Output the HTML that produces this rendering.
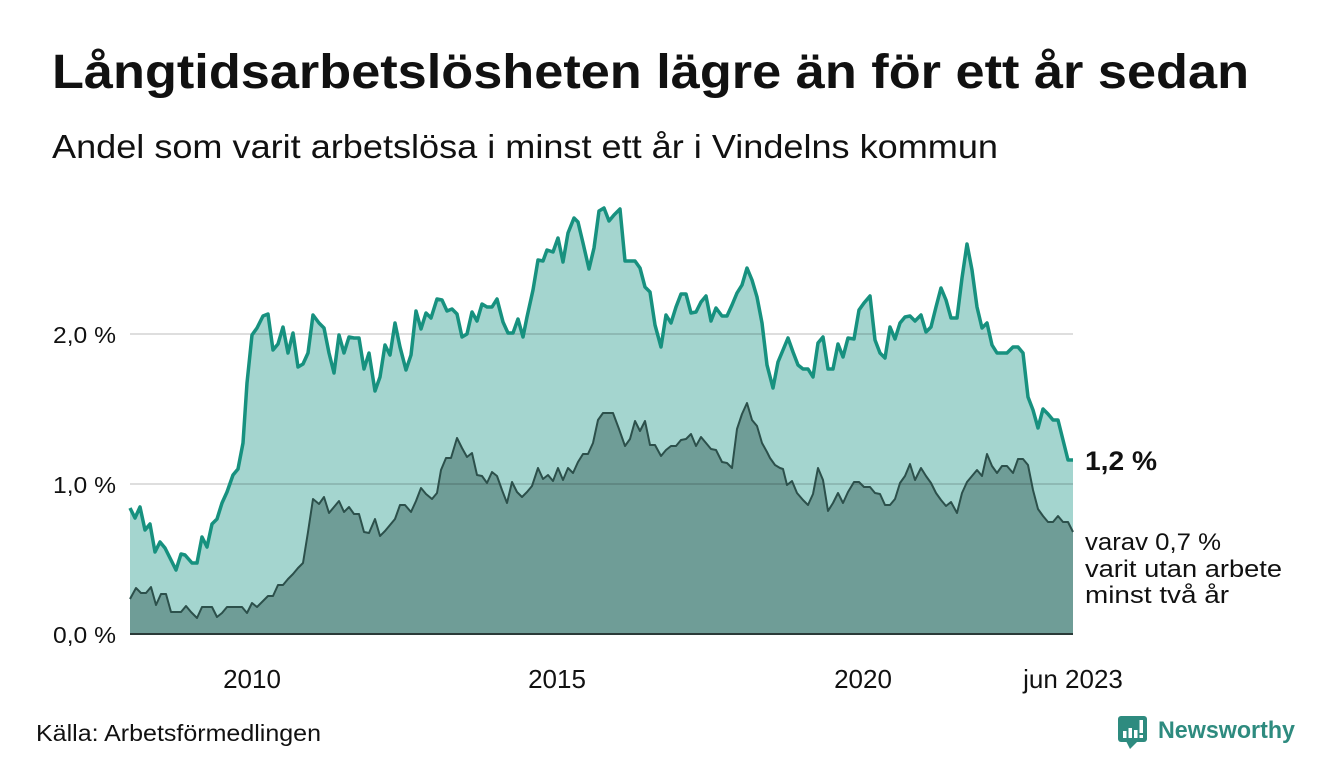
<!DOCTYPE html>
<html>
<head>
<meta charset="utf-8">
<style>
html,body{margin:0;padding:0;background:#fff;}
svg{display:block;}
text{font-family:"Liberation Sans","DejaVu Sans",sans-serif;fill:#111;}
</style>
</head>
<body>
<svg width="1340" height="780" viewBox="0 0 1340 780" xmlns="http://www.w3.org/2000/svg">
<rect width="1340" height="780" fill="#fff"/>
<text x="52" y="88" font-size="48" font-weight="bold" textLength="1197" lengthAdjust="spacingAndGlyphs">Långtidsarbetslösheten lägre än för ett år sedan</text>
<text x="52" y="158" font-size="33" textLength="946" lengthAdjust="spacingAndGlyphs">Andel som varit arbetslösa i minst ett år i Vindelns kommun</text>

<!-- upper area -->
<polygon fill="#a4d5cf" points="130,508 135,518 140,507 145,530 150,524 155,552 160,542 165,548 170,558 176,570 181,554 185,555 192,563 197,563 202,537 207,547 212,524 217,519 222,503 227,492 233,475 238,469 243,443 247,383 252,335 257,328 263,316 268,314 273,350 278,344 283,327 288,353 293,333 298,367 303,364 308,353 313,315 319,323 324,328 329,353 334,373 339,335 344,353 349,337 354,338 359,338 364,369 369,353 375,391 380,377 385,345 390,355 395,323 400,347 406,370 411,355 416,311 421,329 426,313 431,318 437,299 442,300 447,311 452,309 457,314 462,337 467,334 472,312 477,321 482,304 487,307 492,307 497,299 503,322 508,333 513,333 518,319 523,337 527,317 533,290 538,260 543,261 547,250 553,252 558,238 563,262 568,233 574,218 578,222 583,243 589,269 594,248 599,211 604,208 609,221 614,215 620,209 625,261 630,261 635,261 640,268 645,287 650,292 655,325 661,347 666,315 671,323 676,307 681,294 686,294 691,313 696,312 701,302 706,296 711,321 716,308 722,316 727,316 732,305 737,293 742,285 747,268 752,280 757,297 762,323 767,365 773,388 778,362 783,350 788,338 793,352 798,365 803,369 808,369 813,377 818,343 823,337 828,369 833,369 838,344 843,357 848,338 854,339 859,310 864,303 870,296 875,340 880,353 885,358 890,327 895,339 900,323 905,317 910,316 915,321 921,315 926,332 931,327 936,307 941,288 946,300 951,318 957,318 962,278 967,244 972,270 977,307 982,328 987,323 992,345 997,353 1002,353 1007,353 1013,347 1018,347 1023,353 1028,397 1033,410 1038,428 1043,409 1048,414 1053,420 1058,420 1063,440 1068,460 1073,460 1073,634 130,634"/>
<!-- lower area -->
<polygon fill="#6f9d97" points="130,599 136,588 141,593 146,593 151,587 156,605 161,594 166,594 171,612 176,612 181,612 186,606 191,612 197,618 202,607 207,607 212,607 217,617 222,613 227,607 232,607 237,607 242,607 247,613 252,603 257,607 263,601 268,596 273,596 278,585 283,585 288,579 293,574 298,568 303,563 308,532 313,499 319,504 324,497 329,513 334,507 339,501 344,512 349,507 354,514 359,514 364,532 369,533 375,519 380,536 385,531 390,525 395,519 400,505 405,505 411,512 416,501 421,488 426,494 432,499 437,493 441,470 446,458 451,458 457,438 462,448 467,457 472,453 477,475 482,476 487,483 492,472 497,476 502,490 507,503 512,482 517,492 522,497 527,492 532,486 538,468 543,479 548,475 553,481 558,468 563,480 568,468 573,473 578,462 583,454 588,454 593,443 598,420 603,413 608,413 613,413 619,429 625,446 630,439 635,421 640,431 645,421 650,445 655,445 661,456 666,450 671,446 676,446 681,440 686,439 691,434 696,446 701,437 706,443 711,449 716,450 722,462 727,463 732,468 737,429 742,414 747,403 752,420 757,426 762,443 767,452 770,458 775,465 780,468 783,469 787,485 792,481 797,493 803,500 808,505 813,494 818,468 823,480 828,511 833,503 838,493 843,503 848,492 854,482 859,482 864,487 870,487 875,493 880,494 885,505 890,505 895,499 900,483 905,476 910,464 915,480 921,468 926,476 931,483 936,493 941,500 946,506 951,502 957,513 962,493 967,482 972,476 977,470 982,476 987,454 992,466 997,473 1002,466 1007,466 1013,473 1018,459 1023,459 1028,465 1033,490 1038,509 1043,516 1048,522 1053,522 1058,516 1063,522 1068,522 1073,532 1073,634 130,634"/>

<!-- gridlines -->
<line x1="130" y1="334" x2="1073" y2="334" stroke="rgba(0,0,0,0.13)" stroke-width="2"/>
<line x1="130" y1="484" x2="1073" y2="484" stroke="rgba(0,0,0,0.13)" stroke-width="2"/>

<!-- lines -->
<polyline fill="none" stroke="#17917f" stroke-width="3.5" stroke-linejoin="round" points="130,508 135,518 140,507 145,530 150,524 155,552 160,542 165,548 170,558 176,570 181,554 185,555 192,563 197,563 202,537 207,547 212,524 217,519 222,503 227,492 233,475 238,469 243,443 247,383 252,335 257,328 263,316 268,314 273,350 278,344 283,327 288,353 293,333 298,367 303,364 308,353 313,315 319,323 324,328 329,353 334,373 339,335 344,353 349,337 354,338 359,338 364,369 369,353 375,391 380,377 385,345 390,355 395,323 400,347 406,370 411,355 416,311 421,329 426,313 431,318 437,299 442,300 447,311 452,309 457,314 462,337 467,334 472,312 477,321 482,304 487,307 492,307 497,299 503,322 508,333 513,333 518,319 523,337 527,317 533,290 538,260 543,261 547,250 553,252 558,238 563,262 568,233 574,218 578,222 583,243 589,269 594,248 599,211 604,208 609,221 614,215 620,209 625,261 630,261 635,261 640,268 645,287 650,292 655,325 661,347 666,315 671,323 676,307 681,294 686,294 691,313 696,312 701,302 706,296 711,321 716,308 722,316 727,316 732,305 737,293 742,285 747,268 752,280 757,297 762,323 767,365 773,388 778,362 783,350 788,338 793,352 798,365 803,369 808,369 813,377 818,343 823,337 828,369 833,369 838,344 843,357 848,338 854,339 859,310 864,303 870,296 875,340 880,353 885,358 890,327 895,339 900,323 905,317 910,316 915,321 921,315 926,332 931,327 936,307 941,288 946,300 951,318 957,318 962,278 967,244 972,270 977,307 982,328 987,323 992,345 997,353 1002,353 1007,353 1013,347 1018,347 1023,353 1028,397 1033,410 1038,428 1043,409 1048,414 1053,420 1058,420 1063,440 1068,460 1073,460"/>
<polyline fill="none" stroke="#2c504b" stroke-width="2" stroke-linejoin="round" points="130,599 136,588 141,593 146,593 151,587 156,605 161,594 166,594 171,612 176,612 181,612 186,606 191,612 197,618 202,607 207,607 212,607 217,617 222,613 227,607 232,607 237,607 242,607 247,613 252,603 257,607 263,601 268,596 273,596 278,585 283,585 288,579 293,574 298,568 303,563 308,532 313,499 319,504 324,497 329,513 334,507 339,501 344,512 349,507 354,514 359,514 364,532 369,533 375,519 380,536 385,531 390,525 395,519 400,505 405,505 411,512 416,501 421,488 426,494 432,499 437,493 441,470 446,458 451,458 457,438 462,448 467,457 472,453 477,475 482,476 487,483 492,472 497,476 502,490 507,503 512,482 517,492 522,497 527,492 532,486 538,468 543,479 548,475 553,481 558,468 563,480 568,468 573,473 578,462 583,454 588,454 593,443 598,420 603,413 608,413 613,413 619,429 625,446 630,439 635,421 640,431 645,421 650,445 655,445 661,456 666,450 671,446 676,446 681,440 686,439 691,434 696,446 701,437 706,443 711,449 716,450 722,462 727,463 732,468 737,429 742,414 747,403 752,420 757,426 762,443 767,452 770,458 775,465 780,468 783,469 787,485 792,481 797,493 803,500 808,505 813,494 818,468 823,480 828,511 833,503 838,493 843,503 848,492 854,482 859,482 864,487 870,487 875,493 880,494 885,505 890,505 895,499 900,483 905,476 910,464 915,480 921,468 926,476 931,483 936,493 941,500 946,506 951,502 957,513 962,493 967,482 972,476 977,470 982,476 987,454 992,466 997,473 1002,466 1007,466 1013,473 1018,459 1023,459 1028,465 1033,490 1038,509 1043,516 1048,522 1053,522 1058,516 1063,522 1068,522 1073,532"/>

<!-- baseline -->
<line x1="130" y1="634" x2="1073" y2="634" stroke="#2a3a38" stroke-width="2"/>

<!-- y ticks -->
<text x="116" y="343" font-size="23" text-anchor="end" textLength="63" lengthAdjust="spacingAndGlyphs">2,0 %</text>
<text x="116" y="493" font-size="23" text-anchor="end" textLength="63" lengthAdjust="spacingAndGlyphs">1,0 %</text>
<text x="116" y="643" font-size="23" text-anchor="end" textLength="63" lengthAdjust="spacingAndGlyphs">0,0 %</text>

<!-- x ticks -->
<text x="252" y="688" font-size="26" text-anchor="middle">2010</text>
<text x="557" y="688" font-size="26" text-anchor="middle">2015</text>
<text x="863" y="688" font-size="26" text-anchor="middle">2020</text>
<text x="1073" y="688" font-size="26" text-anchor="middle">jun 2023</text>

<!-- annotations -->
<text x="1085" y="470" font-size="27" font-weight="bold" textLength="72" lengthAdjust="spacingAndGlyphs">1,2 %</text>
<text x="1085" y="550" font-size="24" textLength="136" lengthAdjust="spacingAndGlyphs">varav 0,7 %</text>
<text x="1085" y="577" font-size="24" textLength="197" lengthAdjust="spacingAndGlyphs">varit utan arbete</text>
<text x="1085" y="603" font-size="24" textLength="144" lengthAdjust="spacingAndGlyphs">minst två år</text>

<!-- source -->
<text x="36" y="741" font-size="23" textLength="285" lengthAdjust="spacingAndGlyphs">Källa: Arbetsförmedlingen</text>

<!-- logo -->
<g>
  <rect x="1118" y="716" width="29" height="26" rx="3" fill="#2e8b7f"/>
  <polygon points="1126,741 1138,741 1130,749" fill="#2e8b7f"/>
  <rect x="1123" y="731" width="3.5" height="7" fill="#fff"/>
  <rect x="1128.5" y="728" width="3.5" height="10" fill="#fff"/>
  <rect x="1134" y="730" width="3.5" height="8" fill="#fff"/>
  <rect x="1139.5" y="720" width="3.5" height="13" fill="#fff"/>
  <rect x="1139.5" y="735" width="3.5" height="3" fill="#fff"/>
</g>
<text x="1158" y="738" font-size="24" font-weight="bold" fill="#2e8b7f" style="fill:#2e8b7f" textLength="137" lengthAdjust="spacingAndGlyphs">Newsworthy</text>
</svg>
</body>
</html>
